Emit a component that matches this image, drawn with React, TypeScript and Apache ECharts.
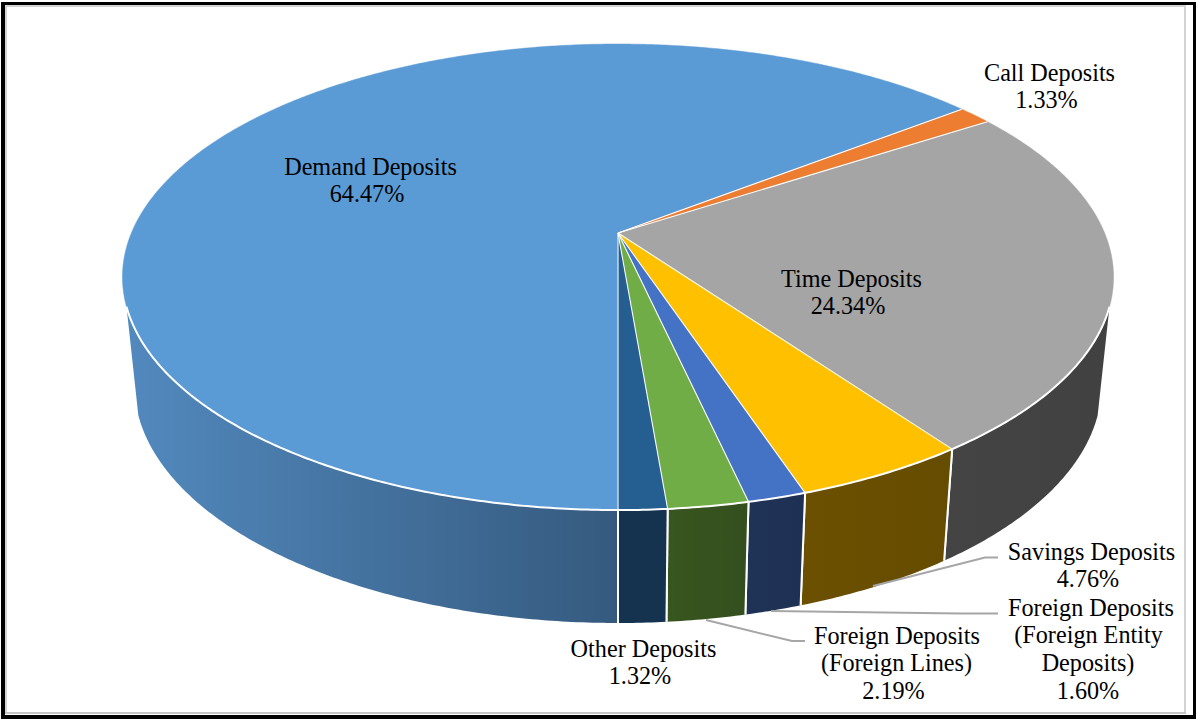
import React, { useEffect, useRef } from "react";
import * as echarts from "echarts";

const categories = [
  "Demand Deposits",
  "Call Deposits",
  "Time Deposits",
  "Savings Deposits",
  "Foreign Deposits (Foreign Entity Deposits)",
  "Foreign Deposits (Foreign Lines)",
  "Other Deposits",
];
const shares = [64.47, 1.33, 24.34, 4.76, 1.6, 2.19, 1.32];

const topColors = ["#5b9bd5", "#ed7d31", "#a5a5a5", "#ffc000", "#4472c4", "#70ad47", "#255e91"];
const wallColorsNear = ["#5289be", "#84461c", "#444444", "#6b5000", "#1f3357", "#38561f", "#15324f"];
const wallColorsFar = ["#355a7e", "#84461c", "#414141", "#664c00", "#1e3154", "#344f1e", "#15324f"];

const labelLines: string[][] = [
  ["Demand Deposits", "64.47%"],
  ["Call Deposits", "1.33%"],
  ["Time Deposits", "24.34%"],
  ["Savings Deposits", "4.76%"],
  ["Foreign Deposits", "(Foreign Entity", "Deposits)", "1.60%"],
  ["Foreign Deposits", "(Foreign Lines)", "2.19%"],
  ["Other Deposits", "1.32%"],
];
// Centre x and first-line y of each label block.
const labelAnchors: number[][] = [
  [370.5, 166],
  [1049.5, 72],
  [851.5, 278],
  [1091.5, 551],
  [1091, 607],
  [897, 635],
  [643.5, 648],
];
// Per-line horizontal nudges inside a label block.
const labelNudges: number[][] = [
  [0, -3.5],
  [0, -3],
  [0, -3.5],
  [0, -3.5],
  [0, -2.5, -3, -3],
  [0, -0.5, -3.5],
  [0, -3.5],
];
const leaderPaths: number[][][] = [
  [[873, 586], [985, 557.5], [998, 557.5]],
  [[771, 611], [960, 613.5], [998, 613.5]],
  [[706, 620], [792, 641], [805, 641]],
];

const FONT = '"Liberation Serif", "Times New Roman", serif';
const FONT_SIZE = 24.2;
const LINE_HEIGHT = 27.8;

// Perspective projection of the pie disc. v is depth toward the viewer.
const CX = 618;
const TILT = 0.189;
const TOP = { y0: 233, sx: 486.6, sy: 224.7 };
const BASE = { y0: 340, sx: 474.9, sy: 229.5 };
const WALL_FROM = 108;
const WALL_TO = 252;

const project = (plane: typeof TOP, deg: number): number[] => {
  const a = (deg * Math.PI) / 180;
  const u = Math.sin(a);
  const v = -Math.cos(a);
  const d = 1 - TILT * v;
  return [CX + (plane.sx * u) / d, plane.y0 + (plane.sy * v) / d];
};

const arc = (plane: typeof TOP, from: number, to: number): number[][] => {
  const steps = Math.max(2, Math.ceil(Math.abs(to - from) / 0.5));
  const pts: number[][] = [];
  for (let i = 0; i <= steps; i++) pts.push(project(plane, from + ((to - from) * i) / steps));
  return pts;
};

// Angles run clockwise from the top of the disc; the first slice starts at the bottom.
const total = shares.reduce((a, b) => a + b, 0);
const sliceRange = (index: number): number[] => {
  let before = 0;
  for (let i = 0; i < index; i++) before += shares[i];
  const start = 180 + (before / total) * 360;
  return [start, start + (shares[index] / total) * 360];
};

// The part of a slice's outer rim that faces the viewer.
const wallSpans = (from: number, to: number): number[][] => {
  const out: number[][] = [];
  for (const shift of [0, 360]) {
    const a = Math.max(from, WALL_FROM + shift);
    const b = Math.min(to, WALL_TO + shift);
    if (b > a) out.push([a, b]);
  }
  return out;
};

export default function App() {
  const ref = useRef<HTMLDivElement>(null);

  useEffect(() => {
    const chart = echarts.init(ref.current!, undefined, { renderer: "svg" });

    const renderWall = (params: any) => {
      const i = params.dataIndex;
      const [from, to] = sliceRange(i);
      const children: any[] = [];
      for (const [a, b] of wallSpans(from, to)) {
        const upper = arc(TOP, a, b);
        const lower = arc(BASE, a, b).reverse();
        const leftToRight = upper[0][0] < upper[upper.length - 1][0];
        const near = wallColorsNear[i];
        const far = wallColorsFar[i];
        children.push({
          type: "polygon",
          shape: { points: upper.concat(lower) },
          style: {
            fill: new echarts.graphic.LinearGradient(0, 0, 1, 0, [
              { offset: 0, color: leftToRight ? far : near },
              { offset: 1, color: leftToRight ? near : far },
            ]),
            stroke: "none",
          },
        });
        const edges: number[] = [];
        if (a === from) edges.push(a);
        if (b === to) edges.push(b);
        for (const e of edges) {
          const p = project(TOP, e);
          const q = project(BASE, e);
          children.push({
            type: "line",
            shape: { x1: p[0], y1: p[1], x2: q[0], y2: q[1] },
            style: { stroke: "#ffffff", lineWidth: 2 },
          });
        }
      }
      return { type: "group", children };
    };

    const renderTop = (params: any) => {
      const i = params.dataIndex;
      const [from, to] = sliceRange(i);
      return {
        type: "polygon",
        shape: { points: [[CX, TOP.y0], ...arc(TOP, from, to)] },
        style: { fill: topColors[i], stroke: topColors[i], lineWidth: 0.5 },
      };
    };

    const renderEdges = (params: any) => {
      const i = params.dataIndex;
      const [from, to] = sliceRange(i);
      const end = project(TOP, from);
      const children: any[] = [
        {
          type: "line",
          shape: { x1: CX, y1: TOP.y0, x2: end[0], y2: end[1] },
          style: { stroke: "#ffffff", lineWidth: 1.1 },
        },
      ];
      for (const [a, b] of wallSpans(from, to)) {
        children.push({
          type: "polyline",
          shape: { points: arc(TOP, a, b) },
          style: { stroke: "#ffffff", lineWidth: 2, fill: "none" },
        });
      }
      return { type: "group", children };
    };

    const textGraphics = labelLines.flatMap((lines, i) =>
      lines.map((line, k) => ({
        type: "text",
        x: labelAnchors[i][0] + labelNudges[i][k],
        y: labelAnchors[i][1] + k * LINE_HEIGHT,
        z: 10,
        style: {
          text: line,
          font: `${FONT_SIZE}px ${FONT}`,
          fill: "#000000",
          align: "center",
          verticalAlign: "middle",
        },
      })),
    );

    const leaderGraphics = leaderPaths.map((points) => ({
      type: "polyline",
      z: 9,
      shape: { points },
      style: { stroke: "#a6a6a6", lineWidth: 2, fill: "none" },
    }));

    const black = { fill: "#000000" };
    const grey = { fill: "#d4d4d4" };
    const frame = [
      { type: "rect", z: 0, shape: { x: 0, y: 0, width: 1196, height: 719 }, style: { fill: "#ffffff" } },
      { type: "rect", z: 1, shape: { x: 1, y: 2, width: 1195, height: 3 }, style: black },
      { type: "rect", z: 1, shape: { x: 1, y: 715, width: 1195, height: 4 }, style: black },
      { type: "rect", z: 1, shape: { x: 1, y: 2, width: 4, height: 717 }, style: black },
      { type: "rect", z: 1, shape: { x: 1193, y: 2, width: 3, height: 717 }, style: black },
      { type: "rect", z: 1, shape: { x: 5, y: 5, width: 1181, height: 2 }, style: grey },
      { type: "rect", z: 1, shape: { x: 5, y: 5, width: 2, height: 709 }, style: grey },
      { type: "rect", z: 1, shape: { x: 1184, y: 5, width: 2, height: 709 }, style: grey },
      { type: "rect", z: 1, shape: { x: 5, y: 712, width: 1181, height: 2 }, style: { fill: "#c4c4c4" } },
    ];

    const data = shares.map((v, i) => ({ name: categories[i], value: [v] }));
    const slicesSeries = (name: string, z: number, renderItem: any) => ({
      type: "custom",
      name,
      coordinateSystem: "none",
      silent: true,
      z,
      data,
      renderItem,
    });

    chart.setOption({
      animation: false,
      backgroundColor: "#ffffff",
      graphic: { elements: [...frame, ...leaderGraphics, ...textGraphics] },
      series: [
        slicesSeries("walls", 2, renderWall),
        slicesSeries("slices", 3, renderTop),
        slicesSeries("edges", 4, renderEdges),
      ],
    });

    return () => chart.dispose();
  }, []);

  return <div ref={ref} style={{ position: "fixed", left: 0, top: 0, width: 1196, height: 719 }} />;
}
